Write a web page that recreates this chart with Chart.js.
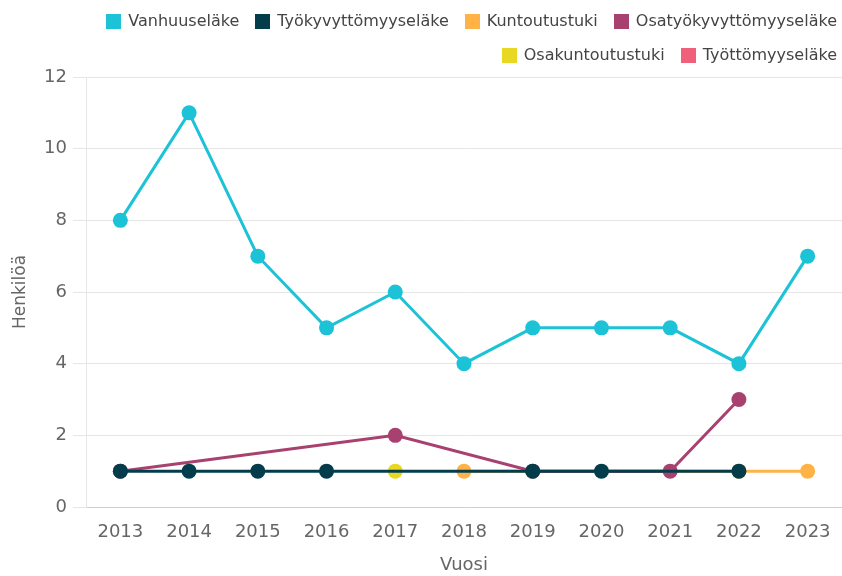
<!DOCTYPE html>
<html>
<head>
<meta charset="utf-8">
<script src="https://cdn.jsdelivr.net/npm/chart.js@4/dist/chart.umd.min.js"></script>
<style>
  html, body { margin: 0; padding: 0; background: #ffffff; overflow: hidden; }
  #wrap { width: 842px; height: 576px; position: relative; }
</style>
</head>
<body>
<div id="wrap"><canvas id="c"></canvas></div>
<script>
const years = ['2013','2014','2015','2016','2017','2018','2019','2020','2021','2022','2023'];
const vanhuuselake = [8, 11, 7, 5, 6, 4, 5, 5, 5, 4, 7];
const tyokyvyttomyyselake = [1, 1, 1, 1, null, null, 1, 1, null, 1, null];
const kuntoutustuki = [null, null, null, null, null, 1, null, null, null, 1, 1];
const osatyokyvyttomyyselake = [1, null, null, null, 2, null, 1, null, 1, 3, null];
const osakuntoutustuki = [null, null, null, null, 1, null, null, null, null, null, null];
const tyottomyyselake = [null, null, null, null, null, null, null, null, null, null, null];
const yTicks = [0, 2, 4, 6, 8, 10, 12];

const FONT = '"DejaVu Sans", Verdana, sans-serif';

function ds(label, data, color, order) {
  return {
    label, data, order,
    borderColor: color, backgroundColor: color,
    pointBackgroundColor: color, pointBorderColor: color,
    borderWidth: 3, pointRadius: 7.5, pointHoverRadius: 7.5, pointBorderWidth: 0,
    spanGaps: true, tension: 0, fill: false, clip: false
  };
}

const topLegend = {
  id: 'topLegend',
  afterDraw(chart) {
    const ctx = chart.ctx;
    ctx.save();
    ctx.font = '16px ' + FONT;
    const box = 15, gapText = 7, gapItem = 16, right = 837, left = 80;
    const rowY = [21, 55];
    const items = chart.data.datasets.map(d => ({
      text: d.label, color: d.borderColor,
      w: box + gapText + ctx.measureText(d.label).width
    }));
    const rows = [[]];
    let w = 0;
    items.forEach(it => {
      const cur = rows[rows.length - 1];
      const add = (cur.length ? gapItem : 0) + it.w;
      if (cur.length && w + add > right - left) { rows.push([it]); w = it.w; }
      else { cur.push(it); w += add; }
    });
    rows.forEach((row, r) => {
      const total = row.reduce((s, it, i) => s + it.w + (i ? gapItem : 0), 0);
      let x = right - total;
      const y = rowY[r];
      row.forEach(it => {
        ctx.fillStyle = it.color;
        ctx.fillRect(Math.round(x), Math.round(y - box / 2), box, box);
        ctx.fillStyle = '#444444';
        ctx.textBaseline = 'middle';
        ctx.textAlign = 'left';
        ctx.fillText(it.text, x + box + gapText, y + 1);
        x += it.w + gapItem;
      });
    });
    ctx.restore();
  }
};

new Chart(document.getElementById('c'), {
  type: 'line',
  data: {
    labels: years,
    datasets: [
      ds('Vanhuuseläke', vanhuuselake, '#1cc2d6', 0),
      ds('Työkyvyttömyyseläke', tyokyvyttomyyselake, '#033d4b', 1),
      ds('Kuntoutustuki', kuntoutustuki, '#ffb347', 3),
      ds('Osatyökyvyttömyyseläke', osatyokyvyttomyyselake, '#a8416f', 2),
      ds('Osakuntoutustuki', osakuntoutustuki, '#e8d824', 4),
      ds('Työttömyyseläke', tyottomyyselake, '#f0607a', 5)
    ]
  },
  options: {
    responsive: true,
    maintainAspectRatio: false,
    animation: false,
    layout: { autoPadding: false, padding: { top: 77, left: 6, right: 0, bottom: 0 } },
    plugins: {
      legend: { display: false },
      tooltip: { enabled: false }
    },
    scales: {
      x: {
        type: 'category',
        offset: true,
        afterFit: s => { s.height = 69; s.paddingLeft = 0; s.paddingRight = 0; },
        grid: { display: false, drawTicks: false },
        border: { display: true, color: '#cfcfcf', width: 1 },
        ticks: { color: '#666666', font: { family: FONT, size: 18 }, padding: 15, maxRotation: 0, autoSkip: false },
        title: { display: true, text: 'Vuosi', color: '#666666', font: { family: FONT, size: 18 }, padding: { top: 11, bottom: 0 } }
      },
      y: {
        min: 0, max: 12,
        afterBuildTicks: s => { s.ticks = yTicks.map(v => ({ value: v })); },
        afterFit: s => { s.width = 80; },
        grid: { color: '#e6e6e6', lineWidth: 1, drawTicks: true, tickLength: 13 },
        border: { display: true, color: '#e6e6e6', width: 1 },
        ticks: { color: '#666666', font: { family: FONT, size: 18 }, padding: 6 },
        title: { display: true, text: 'Henkilöä', color: '#666666', font: { family: FONT, size: 17 }, padding: { top: 4, bottom: 4 } }
      }
    }
  },
  plugins: [topLegend]
});
</script>
</body>
</html>
